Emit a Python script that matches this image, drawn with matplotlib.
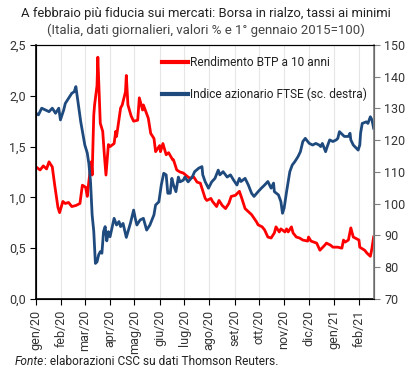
import matplotlib
matplotlib.use("Agg")
import matplotlib.pyplot as plt
from matplotlib.ticker import FuncFormatter, MultipleLocator
import pandas as pd
from datetime import datetime

plt.rcParams['font.family'] = ['Roboto', 'DejaVu Sans']

# --- data ---
btp_dates = ['2020-01-01', '2020-01-06', '2020-01-10', '2020-01-14', '2020-01-17', '2020-01-21',
             '2020-01-24', '2020-01-28', '2020-01-30', '2020-02-03', '2020-02-06', '2020-02-10',
             '2020-02-14', '2020-02-19', '2020-02-24', '2020-02-27', '2020-03-02', '2020-03-04',
             '2020-03-06', '2020-03-09', '2020-03-10', '2020-03-12', '2020-03-13', '2020-03-16',
             '2020-03-17', '2020-03-20', '2020-03-23', '2020-03-25', '2020-03-27', '2020-03-30',
             '2020-04-01', '2020-04-06', '2020-04-08', '2020-04-09', '2020-04-14', '2020-04-16',
             '2020-04-20', '2020-04-21', '2020-04-23', '2020-04-27', '2020-04-30', '2020-05-05',
             '2020-05-07', '2020-05-11', '2020-05-12', '2020-05-18', '2020-05-21', '2020-05-25',
             '2020-05-27', '2020-06-01', '2020-06-02', '2020-06-05', '2020-06-09', '2020-06-12',
             '2020-06-17', '2020-06-18', '2020-06-22', '2020-06-26', '2020-06-30', '2020-07-06',
             '2020-07-08', '2020-07-13', '2020-07-17', '2020-07-21', '2020-07-23', '2020-07-27',
             '2020-07-29', '2020-08-03', '2020-08-05', '2020-08-10', '2020-08-13', '2020-08-17',
             '2020-08-21', '2020-08-25', '2020-08-28', '2020-09-02', '2020-09-07', '2020-09-10',
             '2020-09-14', '2020-09-18', '2020-09-22', '2020-09-28', '2020-09-30', '2020-10-05',
             '2020-10-08', '2020-10-12', '2020-10-16', '2020-10-20', '2020-10-22', '2020-10-26',
             '2020-10-28', '2020-11-02', '2020-11-04', '2020-11-06', '2020-11-10', '2020-11-12',
             '2020-11-16', '2020-11-20', '2020-11-24', '2020-11-30', '2020-12-01', '2020-12-04',
             '2020-12-11', '2020-12-15', '2020-12-21', '2020-12-23', '2020-12-28', '2020-12-31',
             '2021-01-06', '2021-01-11', '2021-01-13', '2021-01-15', '2021-01-19', '2021-01-22',
             '2021-01-25', '2021-02-01', '2021-02-02', '2021-02-08', '2021-02-11', '2021-02-15',
             '2021-02-17', '2021-02-19']
btp_values = [1.30, 1.27, 1.31, 1.28, 1.35, 1.30,
              1.12, 0.90, 0.85, 0.96, 0.94, 0.95,
              0.91, 0.92, 0.94, 1.12, 1.10, 1.01,
              1.16, 1.35, 1.22, 1.81, 1.91, 2.10,
              2.38, 1.73, 1.65, 1.42, 1.22, 1.52,
              1.50, 1.53, 1.65, 1.60, 1.88, 1.91,
              2.04, 2.20, 1.91, 1.80, 1.75, 1.76,
              1.98, 1.86, 1.91, 1.78, 1.63, 1.58,
              1.45, 1.51, 1.45, 1.53, 1.42, 1.44,
              1.37, 1.37, 1.27, 1.25, 1.24, 1.20,
              1.19, 1.20, 1.15, 1.14, 1.09, 0.99,
              0.97, 0.99, 0.96, 0.91, 0.97, 0.92,
              0.89, 0.94, 1.01, 1.02, 1.06, 0.99,
              0.89, 0.86, 0.83, 0.76, 0.73, 0.71,
              0.68, 0.61, 0.60, 0.65, 0.71, 0.66,
              0.69, 0.66, 0.69, 0.66, 0.71, 0.65,
              0.61, 0.60, 0.58, 0.57, 0.61, 0.57,
              0.55, 0.48, 0.53, 0.55, 0.53, 0.51,
              0.51, 0.50, 0.58, 0.56, 0.58, 0.70,
              0.61, 0.58, 0.51, 0.48, 0.45, 0.42,
              0.50, 0.61]

ftse_dates = ['2020-01-01', '2020-01-04', '2020-01-08', '2020-01-13', '2020-01-17', '2020-01-21',
              '2020-01-25', '2020-01-29', '2020-01-31', '2020-02-04', '2020-02-06', '2020-02-10',
              '2020-02-14', '2020-02-17', '2020-02-19', '2020-02-21', '2020-02-25', '2020-03-01',
              '2020-03-04', '2020-03-06', '2020-03-08', '2020-03-10', '2020-03-12', '2020-03-14',
              '2020-03-16', '2020-03-18', '2020-03-20', '2020-03-22', '2020-03-24', '2020-03-26',
              '2020-03-28', '2020-03-30', '2020-04-01', '2020-04-06', '2020-04-09', '2020-04-12',
              '2020-04-14', '2020-04-17', '2020-04-21', '2020-04-26', '2020-04-30', '2020-05-02',
              '2020-05-04', '2020-05-08', '2020-05-12', '2020-05-16', '2020-05-20', '2020-05-25',
              '2020-05-27', '2020-05-31', '2020-06-03', '2020-06-06', '2020-06-09', '2020-06-11',
              '2020-06-14', '2020-06-16', '2020-06-18', '2020-06-21', '2020-06-24', '2020-06-26',
              '2020-06-30', '2020-07-02', '2020-07-06', '2020-07-11', '2020-07-14', '2020-07-19',
              '2020-07-23', '2020-07-24', '2020-07-27', '2020-07-31', '2020-08-04', '2020-08-08',
              '2020-08-12', '2020-08-14', '2020-08-18', '2020-08-23', '2020-08-27', '2020-08-31',
              '2020-09-04', '2020-09-07', '2020-09-09', '2020-09-14', '2020-09-18', '2020-09-22',
              '2020-09-25', '2020-09-30', '2020-10-04', '2020-10-08', '2020-10-12', '2020-10-16',
              '2020-10-19', '2020-10-20', '2020-10-25', '2020-10-28', '2020-10-30', '2020-11-01',
              '2020-11-04', '2020-11-08', '2020-11-11', '2020-11-14', '2020-11-18', '2020-11-21',
              '2020-11-24', '2020-11-27', '2020-11-30', '2020-12-02', '2020-12-06', '2020-12-10',
              '2020-12-14', '2020-12-16', '2020-12-18', '2020-12-22', '2020-12-24', '2020-12-27',
              '2020-12-31', '2021-01-04', '2021-01-06', '2021-01-08', '2021-01-10', '2021-01-14',
              '2021-01-19', '2021-01-21', '2021-01-22', '2021-01-25', '2021-01-29', '2021-01-31',
              '2021-02-02', '2021-02-03', '2021-02-05', '2021-02-10', '2021-02-12', '2021-02-15',
              '2021-02-17', '2021-02-19']
ftse_values = [128.5, 128.0, 130.1, 129.5, 129.0, 130.1,
               128.5, 130.1, 126.4, 129.5, 131.6, 133.2,
               134.8, 135.3, 136.9, 133.2, 125.8, 118.5,
               116.0, 112.6, 107.0, 96.5, 91.3, 81.2,
               81.7, 83.9, 84.9, 84.4, 91.2, 92.8,
               88.3, 91.2, 89.6, 95.4, 93.3, 94.4,
               92.8, 93.8, 89.4, 93.8, 98.0, 95.4,
               93.3, 94.9, 95.4, 91.7, 93.3, 96.5,
               99.6, 100.6, 105.9, 109.6, 109.1, 103.3,
               103.3, 108.0, 105.9, 103.8, 108.4, 106.9,
               107.4, 108.4, 106.9, 108.4, 110.1, 111.2,
               111.7, 109.1, 106.9, 104.9, 106.9, 108.0,
               110.6, 109.1, 110.1, 108.4, 109.1, 107.4,
               105.9, 108.0, 107.0, 108.0, 105.9, 103.3,
               102.3, 103.8, 104.9, 105.9, 107.0, 104.9,
               106.5, 103.8, 102.8, 100.7, 97.0, 98.6,
               103.8, 110.1, 112.2, 113.2, 114.8, 116.4,
               119.6, 120.6, 119.6, 119.0, 118.5, 119.0,
               118.5, 118.0, 119.0, 116.4, 118.0, 120.1,
               119.6, 120.1, 120.6, 122.7, 122.2, 121.2,
               121.2, 122.2, 120.1, 118.5, 117.4, 116.9,
               118.5, 122.2, 125.3, 125.8, 125.3, 127.4,
               126.4, 123.8]

month_labels = ['gen/20', 'feb/20', 'mar/20', 'apr/20', 'mag/20', 'giu/20', 'lug/20',
                'ago/20', 'set/20', 'ott/20', 'nov/20', 'dic/20', 'gen/21', 'feb/21']

btp_x = pd.to_datetime(btp_dates)
ftse_x = pd.to_datetime(ftse_dates)
month_ticks = pd.date_range('2020-01-01', periods=len(month_labels), freq='MS')

red = '#FF0000'
blue = '#1F4A7E'

fig = plt.figure(figsize=(4.12, 3.75), dpi=100)
ax = fig.add_axes([0.0874, 0.2027, 0.8204, 0.6773])
ax2 = ax.twinx()

l1, = ax.plot(btp_x, btp_values, color=red, lw=2.0, label='Rendimento BTP a 10 anni')
l2, = ax2.plot(ftse_x, ftse_values, color=blue, lw=2.0, label='Indice azionario FTSE (sc. destra)')

ax.set_xlim(datetime(2020, 1, 1), datetime(2021, 2, 19, 12))
ax.set_ylim(0, 2.5)
ax2.set_ylim(70, 150)
ax.yaxis.set_major_locator(MultipleLocator(0.5))
ax2.yaxis.set_major_locator(MultipleLocator(10))
ax.yaxis.set_major_formatter(FuncFormatter(lambda v, p: f'{v:.1f}'.replace('.', ',')))

ax.set_xticks(month_ticks)
ax.set_xticklabels(month_labels, rotation=90)
ax.grid(axis='x', color='#E6E6E6', lw=0.8)
ax.set_axisbelow(True)

for a in (ax, ax2):
    a.tick_params(labelsize=9, labelcolor='#333333', length=4, width=0.8)
ax2.tick_params(axis='y', color='#808080')
ax2.spines['right'].set_color('#808080')
ax2.spines['right'].set_linewidth(1.2)
ax.spines['left'].set_linewidth(1.2)
ax.spines['bottom'].set_linewidth(1.2)

fig.text(0.5, 0.963, 'A febbraio più fiducia sui mercati: Borsa in rialzo, tassi ai minimi',
         ha='center', va='center', fontsize=9.4, color='#222222')
fig.text(0.5, 0.918, '(Italia, dati giornalieri, valori % e 1° gennaio 2015=100)',
         ha='center', va='center', fontsize=9.5, color='#444444')

leg = ax2.legend(handles=[l1, l2], loc='upper left', bbox_to_anchor=(0.373, 0.955),
                 frameon=False, fontsize=8.6, handlelength=2.2, handletextpad=0.15,
                 labelspacing=1.5, borderaxespad=0, borderpad=0)
for t in leg.get_texts():
    t.set_color('#222222')
for h in leg.get_lines():
    h.set_linewidth(3)

# footnote: italic "Fonte" followed by the rest
fig.canvas.draw()
fonte = fig.text(0.036, 0.037, 'Fonte', fontsize=8.6, style='italic', color='#222222', va='center')
bb = fonte.get_window_extent(renderer=fig.canvas.get_renderer())
fig.text(bb.x1 / fig.bbox.width, 0.037, ': elaborazioni CSC su dati Thomson Reuters.',
         fontsize=8.6, color='#222222', va='center')

fig.savefig('out.png', dpi=100)
